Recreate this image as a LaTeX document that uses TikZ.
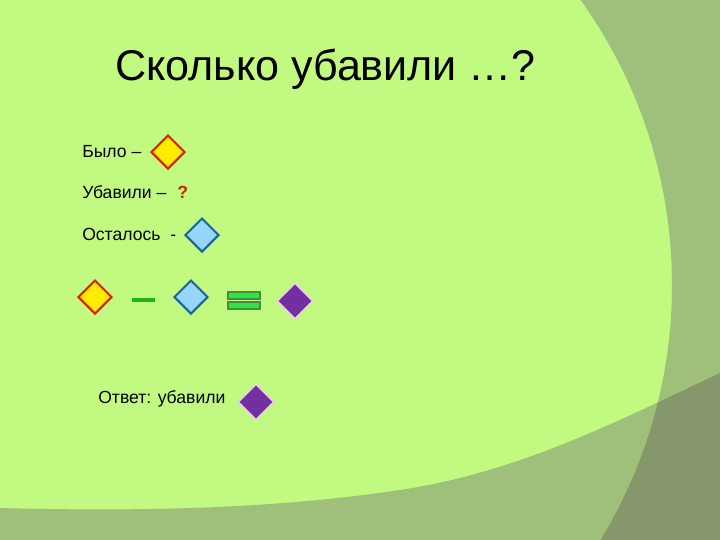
\documentclass[tikz,border=0pt]{standalone}
\usepackage{fontspec}
\setmainfont{Liberation Sans}
\usetikzlibrary{shapes.geometric}

\definecolor{bglight}{RGB}{193,249,129}
\definecolor{bgmid}{RGB}{158,192,122}
\definecolor{bgdark}{RGB}{134,151,108}
\definecolor{dyellow}{RGB}{255,236,0}
\definecolor{dred}{RGB}{215,30,0}
\definecolor{dblue}{RGB}{150,214,250}
\definecolor{dbluedge}{RGB}{25,100,150}
\definecolor{dpurple}{RGB}{112,48,160}
\definecolor{dpink}{RGB}{240,200,240}
\definecolor{mgreen}{RGB}{30,180,30}
\definecolor{eqfill}{RGB}{45,230,65}
\definecolor{eqedge}{RGB}{70,140,70}
\definecolor{qred}{RGB}{200,40,0}

\begin{document}
\begin{tikzpicture}[x=0.25mm,y=-0.25mm,
  dia/.style={diamond,inner sep=0pt,minimum size=8.5mm,line width=0.5mm},
  yellowdia/.style={dia,fill=dyellow,draw=dred},
  bluedia/.style={dia,fill=dblue,draw=dbluedge},
  purpledia/.style={dia,fill=dpurple,draw=dpink,line width=0.35mm,minimum size=9mm},
  lbl/.style={anchor=base west,inner sep=0pt,font=\fontsize{12.5}{15}\selectfont},
  eqbar/.style={fill=eqfill,draw=eqedge,line width=0.3mm}]
  % helper grid: comment for final drawing
  % \draw[help lines,step=20] (0,0) grid (720,540);
  % \foreach \x in {0,100,...,700}
  %      \node[anchor=north] at (\x,545) {\x};

  \useasboundingbox (0,0) rectangle (720,540);

  % background
  \fill[bglight] (-20,-20) rectangle (740,560);
  \fill[bgmid,even odd rule] (-50,-50) rectangle (770,590) (182,285) circle (490);
  \fill[bgmid] (-20,508) -- (0,508) .. controls (150,512) and (280,508) .. (400,490)
      .. controls (520,472) and (620,420) .. (720,373) -- (740,364)
      -- (740,560) -- (-20,560) -- cycle;
  \begin{scope}[even odd rule]
    \clip (-50,-50) rectangle (770,590) (182,285) circle (490);
    \fill[bgdark] (-20,508) -- (0,508) .. controls (150,512) and (280,508) .. (400,490)
      .. controls (520,472) and (620,420) .. (720,373) -- (740,364)
      -- (740,560) -- (-20,560) -- cycle;
  \end{scope}

  % title
  \node[anchor=base west,inner sep=0pt,font=\fontsize{30.6}{36}\selectfont]
    (title) at (115,80) {Сколько убавили …?};

  % given
  \node[lbl] (was) at (82,157) {Было –};
  \node[yellowdia] (wasd) at (168,152) {};
  \node[lbl] (took) at (82,198) {Убавили –};
  \node[lbl,text=qred,font=\bfseries\fontsize{12.5}{15}\selectfont] (q) at (177,198) {?};
  \node[lbl] (left) at (82,240) {Осталось\ \ -};
  \node[bluedia] (leftd) at (202,235) {};

  % equation
  \node[yellowdia] (ay) at (95,297) {};
  \draw[mgreen,line width=1mm] (132,300) -- (155,300);
  \node[bluedia] (ab) at (191,297) {};
  \draw[eqbar] (228,292) rectangle (260,299);
  \draw[eqbar] (228,302) rectangle (260,309);
  \node[purpledia] (ap) at (295,301) {};

  % answer
  \node[lbl] (ans) at (98,403) {Ответ: убавили};
  \node[purpledia] (ansd) at (256,402) {};

\end{tikzpicture}
\end{document}
